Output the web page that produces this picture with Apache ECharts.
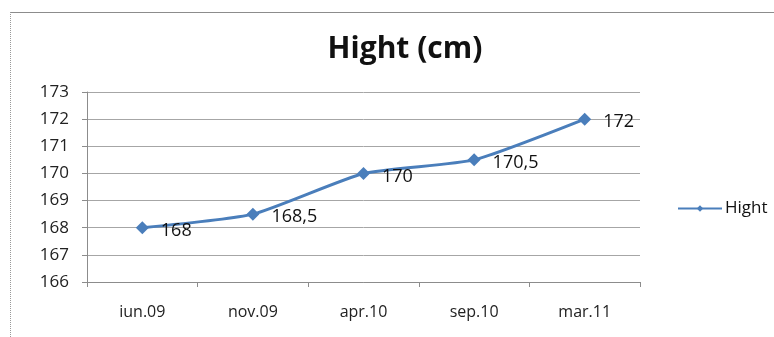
<!DOCTYPE html>
<html>
<head>
<meta charset="utf-8">
<script src="https://cdn.jsdelivr.net/npm/echarts@6/dist/echarts.min.js"></script>
<style>
  html, body { margin: 0; padding: 0; background: #fff; }
  #chart { width: 774px; height: 337px; }
</style>
</head>
<body>
<div id="chart"></div>
<script>
// data
const categories = ['iun.09', 'nov.09', 'apr.10', 'sep.10', 'mar.11'];
const hightValues = [168, 168.5, 170, 170.5, 172];
const seriesName = 'Hight';

const chart = echarts.init(document.getElementById('chart'));
const font = '"Open Sans", "Liberation Sans", sans-serif';

const option = {
  animation: false,
  textStyle: { fontFamily: font },
  title: {
    text: 'Hight (cm)',
    left: 400,
    top: 29,
    textAlign: 'center',
    textStyle: { fontSize: 30, fontWeight: 'bold', color: '#111', fontFamily: font }
  },
  graphic: [
    // outer frame (top solid, left dotted)
    { type: 'line', shape: { x1: 10, y1: 12.5, x2: 774, y2: 12.5 }, style: { stroke: '#8c8c8c', lineWidth: 1 } },
    { type: 'line', shape: { x1: 10.5, y1: 12, x2: 10.5, y2: 337 }, style: { stroke: '#999', lineWidth: 1, lineDash: [1, 1] } }
  ],
  legend: {
    data: [seriesName],
    left: 672,
    top: 195,
    itemWidth: 44,
    itemHeight: 8,
    itemGap: 0,
    textStyle: { fontSize: 17, color: '#111', padding: [0, 0, 0, -2] }
  },
  grid: { left: 87, right: 134, top: 92, bottom: 55 },
  xAxis: {
    type: 'category',
    data: categories,
    boundaryGap: true,
    axisLine: { lineStyle: { color: '#8c8c8c' } },
    axisTick: { show: true, length: 5, alignWithLabel: false, lineStyle: { color: '#8c8c8c' } },
    axisLabel: { color: '#222', fontSize: 16, margin: 22 }
  },
  yAxis: {
    type: 'value',
    min: 166,
    max: 173,
    interval: 1,
    axisLine: { show: true, lineStyle: { color: '#8c8c8c' } },
    axisTick: { show: true, length: 5, lineStyle: { color: '#8c8c8c' } },
    axisLabel: { color: '#222', fontSize: 17, margin: 18 },
    splitLine: { lineStyle: { color: '#a6a6a6' } }
  },
  series: [
    {
      name: seriesName,
      type: 'line',
      data: hightValues,
      smooth: 0.18,
      symbol: 'diamond',
      symbolSize: 13,
      lineStyle: { color: '#4a7ebb', width: 3 },
      itemStyle: { color: '#4a7ebb' },
      label: {
        show: true,
        position: 'right',
        distance: 12,
        offset: [0, 3],
        fontSize: 18,
        color: '#111',
        formatter: p => String(p.value).replace('.', ',')
      }
    }
  ]
};

chart.setOption(option);
</script>
</body>
</html>
